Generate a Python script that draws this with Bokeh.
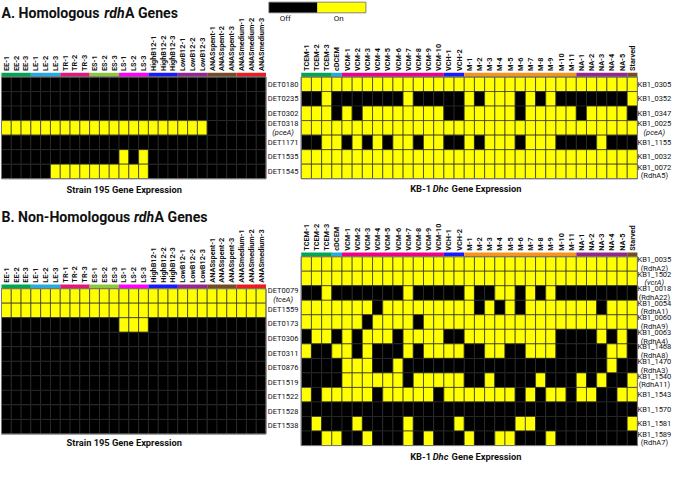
import math
from bokeh.plotting import figure
from bokeh.models import Range1d
from bokeh.embed import file_html
from bokeh.resources import INLINE
from bokeh.core.properties import value

# ======================= DATA =======================
strain_conditions = ["EE-1", "EE-2", "EE-3", "LE-1", "LE-2", "LE-3", "TR-1", "TR-2", "TR-3",
                     "ES-1", "ES-2", "ES-3", "LS-1", "LS-2", "LS-3",
                     "HighB12-1", "HighB12-2", "HighB12-3", "LowB12-1", "LowB12-2", "LowB12-3",
                     "ANASspent-1", "ANASspent-2", "ANASspent-3",
                     "ANASmedium-1", "ANASmedium-2", "ANASmedium-3"]
strain_group_names = ["EE", "LE", "TR", "ES", "LS", "HighB12", "LowB12", "ANASspent", "ANASmedium"]
strain_group_sizes = [3, 3, 3, 3, 3, 3, 3, 3, 3]
strain_group_colors = ["#00a651", "#27aae1", "#e0197d", "#8dc63f", "#ff00ff",
                       "#1a1aff", "#92278f", "#754c24", "#ed1c24"]

kb1_conditions = ["TCEM-1", "TCEM-2", "TCEM-3", "cDCEM",
                  "VCM-1", "VCM-2", "VCM-3", "VCM-4", "VCM-5", "VCM-6", "VCM-7", "VCM-8", "VCM-9", "VCM-10",
                  "VCH-1", "VCH-2",
                  "M-1", "M-2", "M-3", "M-4", "M-5", "M-6", "M-7", "M-8", "M-9", "M-10", "M-11",
                  "NA-1", "NA-2", "NA-3", "NA-4", "NA-5", "Starved"]
kb1_group_names = ["TCEM", "cDCEM", "VCM", "VCH", "M", "NA", "Starved"]
kb1_group_sizes = [3, 1, 10, 2, 11, 5, 1]
kb1_group_colors = ["#00a651", "#27aae1", "#ec008c", "#1a1aff", "#f7941d", "#92278f", "#754c24"]

state_names = ["Off", "On"]
state_colors = ["#000000", "#ffff00"]

# --- A. Homologous rdhA genes ---
homologous_strain_genes = ["DET0180", "DET0235", "DET0302", "DET0318", "DET1171", "DET1535", "DET1545"]
homologous_strain_alias = ["", "", "", "pceA", "", "", ""]
homologous_strain_state = [   # groups: EE LE TR ES LS HighB12 LowB12 ANASspent ANASmedium
    "000 000 000 000 000 000 000 000 000",
    "000 000 000 000 000 000 000 000 000",
    "000 000 000 000 000 000 000 000 000",
    "111 111 111 111 111 111 111 000 000",
    "000 000 000 000 000 000 000 000 000",
    "000 000 000 000 101 000 000 000 000",
    "000 001 111 111 111 000 000 000 000",
]

homologous_kb1_genes = ["KB1_0305", "KB1_0352", "KB1_0347", "KB1_0025", "KB1_1155", "KB1_0032", "KB1_0072"]
homologous_kb1_alias = ["", "", "", "pceA", "", "", "RdhA5"]
homologous_kb1_state = [      # groups: TCEM cDCEM VCM VCH M NA Starved
    "111 1 1111111111 11 11111111111 11111 1",
    "001 0 0000001000 00 10111010100 00000 1",
    "111 0 1011111111 00 11111011111 01111 0",
    "111 1 1111111111 11 11111111111 11111 1",
    "001 1 0101011011 00 10111011100 00100 0",
    "111 1 1111111111 11 11111111111 11111 1",
    "111 1 1111111111 11 11111111111 11111 1",
]

# --- B. Non-homologous rdhA genes ---
nonhomologous_strain_genes = ["DET0079", "DET1559", "DET0173", "DET0306", "DET0311",
                              "DET0876", "DET1519", "DET1522", "DET1528", "DET1538"]
nonhomologous_strain_alias = ["tceA", "", "", "", "", "", "", "", "", ""]
nonhomologous_strain_state = [
    "111 111 111 111 111 111 111 111 111",
    "111 111 111 111 111 111 111 111 111",
    "000 000 000 000 111 000 000 000 000",
    "000 000 000 000 000 000 000 000 000",
    "000 000 000 000 000 000 000 000 000",
    "000 000 000 000 000 000 000 000 000",
    "000 000 000 000 000 000 000 000 000",
    "000 000 000 000 000 000 000 000 000",
    "000 000 000 000 000 000 000 000 000",
    "000 000 000 000 000 000 000 000 000",
]

nonhomologous_kb1_genes = ["KB1_0035", "KB1_1502", "KB1_0018", "KB1_0054", "KB1_0060", "KB1_0063",
                           "KB1_1468", "KB1_1470", "KB1_1540", "KB1_1543", "KB1_1570", "KB1_1581",
                           "KB1_1589"]
nonhomologous_kb1_alias = ["RdhA2", "vcrA", "RdhA22", "RdhA1", "RdhA9", "RdhA4", "RdhA8", "RdhA3",
                           "RdhA11", "", "", "", "RdhA7"]
nonhomologous_kb1_state = [
    "111 1 1111111111 11 11111111111 11111 1",
    "111 1 1111111111 11 11111111111 11111 1",
    "001 0 0000001000 00 10011010100 00000 0",
    "111 1 1110111111 11 10101011111 11011 1",
    "111 1 1101111011 11 11111111111 11111 1",
    "011 0 1011101111 00 11111111100 00101 0",
    "100 1 1010001011 11 00110011100 00011 0",
    "000 0 1110010000 00 00000000000 00010 0",
    "000 0 1111110111 11 00100001000 10100 1",
    "101 1 1110111110 11 11111010110 11001 1",
    "000 0 0000000000 00 00000000000 00000 0",
    "010 0 0100001000 01 00000110000 00000 1",
    "001 1 0010001010 00 10011000100 00000 0",
]

italic_aliases = ["pceA", "tceA", "vcrA"]

# ======================= LAYOUT =======================
FONT = "Roboto"
W, H = 672, 462
VX0, VX1, VY0, VY1 = 2.0, 688.0, 3.0, 480.0
SX = W / (VX1 - VX0)

ROW_H = 15.0
BAR_H = 4.4
LEFT_X0, LEFT_CW = 3.0, 10.0
RIGHT_X0, RIGHT_CW = 309.0, 10.4
A_TOP = 82.0
B_LEFT_TOP = 300.5
B_RIGHT_TOP = 267.5
MID_LABEL_X = 290.5
RIGHT_LABEL_X = 669.5

p = figure(width=W, height=H, x_range=Range1d(VX0, VX1), y_range=Range1d(-VY1, -VY0),
           output_backend="svg", toolbar_location=None, min_border=0,
           x_axis_location=None, y_axis_location=None, outline_line_color=None,
           background_fill_color="white", border_fill_color="white")
p.grid.visible = False

BOLD_EM = {'A': 0.667, 'B': 0.636, 'D': 0.652, 'E': 0.551, 'G': 0.683, 'H': 0.712, 'K': 0.640,
           'N': 0.712, 'S': 0.607, 'a': 0.543, 'c': 0.523, 'd': 0.563, 'e': 0.533, 'g': 0.563,
           'h': 0.556, 'i': 0.252, 'l': 0.252, 'm': 0.876, 'n': 0.556, 'o': 0.571, 'p': 0.561,
           'r': 0.347, 's': 0.517, 't': 0.333, 'u': 0.556, 'x': 0.502, ' ': 0.30, '.': 0.268,
           '-': 0.290, '1': 0.561, '5': 0.561, '9': 0.561}


def em_width(s):
    return sum(BOLD_EM.get(ch, 0.55) for ch in s)


def draw_rich(x, baseline, segments, size_px, anchor="left"):
    widths = [em_width(t) * size_px / SX for t, _ in segments]
    start = x if anchor == "left" else x - sum(widths) / 2
    for (t, style), w in zip(segments, widths):
        stripped = t.lstrip()
        lead = em_width(t[:len(t) - len(stripped)]) * size_px / SX
        p.text(x=[start + lead], y=[-baseline], text=[stripped.rstrip()], text_align="left",
               text_baseline="alphabetic", text_font=value(FONT), text_font_style=style,
               text_font_size=f"{size_px}px", text_color="#111111")
        start += w


def draw_heatmap(x0, cw, top, rows):
    grid = [r.replace(" ", "") for r in rows]
    xs, ys, fills = [], [], []
    for r, row in enumerate(grid):
        for c, ch in enumerate(row):
            xs.append(x0 + (c + 0.5) * cw)
            ys.append(-(top + (r + 0.5) * ROW_H))
            fills.append(state_colors[int(ch)])
    p.rect(x=xs, y=ys, width=cw, height=ROW_H, fill_color=fills,
           line_color="#2a2a2a", line_width=0.7)
    ncol, nrow = len(grid[0]), len(grid)
    p.rect(x=[x0 + ncol * cw / 2], y=[-(top + nrow * ROW_H / 2)], width=ncol * cw,
           height=nrow * ROW_H, fill_color=None, line_color="#7a7a7a", line_width=1)


def draw_groups(x0, cw, top, sizes, colors, labels):
    lefts, rights, c = [], [], 0
    for s in sizes:
        lefts.append(x0 + c * cw)
        c += s
        rights.append(x0 + c * cw)
    p.quad(left=lefts, right=rights, top=-(top - BAR_H), bottom=-(top - 0.2),
           fill_color=colors, line_color=None)
    p.text(x=[x0 + (i + 0.5) * cw for i in range(len(labels))], y=-(top - BAR_H - 1.8),
           text=labels, angle=math.pi / 2, text_align="left", text_baseline="middle",
           text_font=value(FONT), text_font_style="bold", text_font_size="7.3px",
           text_color="#111111")


def draw_row_labels(xc, top, genes, aliases, dy=0.0):
    nx, ny, nt = [], [], []
    ix, iy, it = [], [], []
    rx, ry, rt = [], [], []
    for r, (g, a) in enumerate(zip(genes, aliases)):
        yc = top + (r + 0.5) * ROW_H + dy
        if a:
            nx.append(xc); ny.append(-(yc - 4.3)); nt.append(g)
            if a in italic_aliases:
                ix.append(xc); iy.append(-(yc + 4.6)); it.append(f"({a})")
            else:
                rx.append(xc); ry.append(-(yc + 4.6)); rt.append(f"({a})")
        else:
            nx.append(xc); ny.append(-yc); nt.append(g)
    common = dict(text_align="center", text_baseline="middle", text_font=value(FONT),
                  text_font_size="7.5px", text_color="#111111")
    p.text(x=nx, y=ny, text=nt, **common)
    if rt:
        p.text(x=rx, y=ry, text=rt, **common)
    if it:
        p.text(x=ix, y=iy, text=it, text_font_style="italic", **common)


# ---- titles ----
draw_rich(3, 16, [("A. Homologous ", "bold"), ("rdh", "bold italic"), ("A Genes", "bold")], 14.1)
draw_rich(3, 227, [("B. Non-Homologous ", "bold"), ("rdh", "bold italic"), ("A Genes", "bold")], 14.1)

# ---- legend ----
LEG_X0, LEG_BOX_W, LEG_TOP, LEG_H = 276.0, 49.5, 4.7, 11.0
LEG_LABEL_DX = [-8.0, -3.0]
p.quad(left=[LEG_X0 + i * LEG_BOX_W for i in range(len(state_names))],
       right=[LEG_X0 + (i + 1) * LEG_BOX_W for i in range(len(state_names))],
       top=-LEG_TOP, bottom=-(LEG_TOP + LEG_H), fill_color=state_colors, line_color=None)
p.quad(left=[LEG_X0], right=[LEG_X0 + len(state_names) * LEG_BOX_W], top=-LEG_TOP,
       bottom=-(LEG_TOP + LEG_H), fill_color=None, line_color="#666666", line_width=0.8)
p.text(x=[LEG_X0 + (i + 0.5) * LEG_BOX_W + LEG_LABEL_DX[i] for i in range(len(state_names))],
       y=-(LEG_TOP + LEG_H + 5.5), text=state_names, text_align="center", text_baseline="middle",
       text_font=value(FONT), text_font_size="8px", text_color="#111111")

# ---- panel A ----
draw_groups(LEFT_X0, LEFT_CW, A_TOP, strain_group_sizes, strain_group_colors, strain_conditions)
draw_heatmap(LEFT_X0, LEFT_CW, A_TOP, homologous_strain_state)
draw_row_labels(MID_LABEL_X, A_TOP, homologous_strain_genes, homologous_strain_alias)
draw_groups(RIGHT_X0, RIGHT_CW, A_TOP, kb1_group_sizes, kb1_group_colors, kb1_conditions)
draw_heatmap(RIGHT_X0, RIGHT_CW, A_TOP, homologous_kb1_state)
draw_row_labels(RIGHT_LABEL_X, A_TOP, homologous_kb1_genes, homologous_kb1_alias)
draw_rich(128.5, 198, [("Strain 195 Gene Expression", "bold")], 9.3, anchor="center")
draw_rich(477, 197, [("KB-1 ", "bold"), ("Dhc", "bold italic"), (" Gene Expression", "bold")], 9.3,
          anchor="center")

# ---- panel B ----
draw_groups(LEFT_X0, LEFT_CW, B_LEFT_TOP, strain_group_sizes, strain_group_colors, strain_conditions)
draw_heatmap(LEFT_X0, LEFT_CW, B_LEFT_TOP, nonhomologous_strain_state)
draw_row_labels(MID_LABEL_X, B_LEFT_TOP, nonhomologous_strain_genes, nonhomologous_strain_alias, dy=-1.0)
draw_groups(RIGHT_X0, RIGHT_CW, B_RIGHT_TOP, kb1_group_sizes, kb1_group_colors, kb1_conditions)
draw_heatmap(RIGHT_X0, RIGHT_CW, B_RIGHT_TOP, nonhomologous_kb1_state)
draw_row_labels(RIGHT_LABEL_X, B_RIGHT_TOP, nonhomologous_kb1_genes, nonhomologous_kb1_alias)
draw_rich(128.5, 459.5, [("Strain 195 Gene Expression", "bold")], 9.3, anchor="center")
draw_rich(477, 474, [("KB-1 ", "bold"), ("Dhc", "bold italic"), (" Gene Expression", "bold")], 9.3,
          anchor="center")

open("out.html", "w").write(file_html(p, INLINE))
